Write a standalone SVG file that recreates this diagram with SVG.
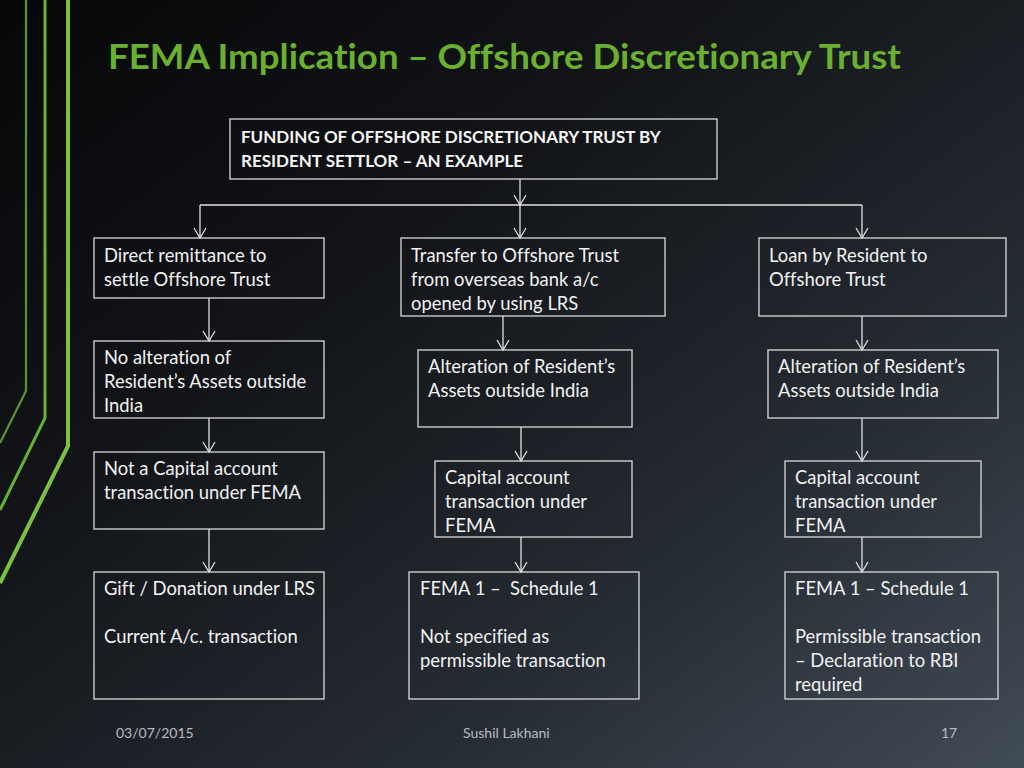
<svg xmlns="http://www.w3.org/2000/svg" width="1024" height="768" viewBox="0 0 1024 768">
<defs>
<linearGradient id="bg" x1="0" y1="0" x2="1" y2="1">
<stop offset="0" stop-color="#060708"/>
<stop offset="0.35" stop-color="#121418"/>
<stop offset="0.7" stop-color="#262c33"/>
<stop offset="1" stop-color="#414b56"/>
</linearGradient>
<marker id="arr" markerWidth="14" markerHeight="14" refX="12" refY="7" orient="auto" markerUnits="userSpaceOnUse" viewBox="0 0 14 14">
<path d="M2,1 L12,7 L2,13" fill="none" stroke="#e0e0e0" stroke-width="1.3"/>
</marker>
</defs>
<style>
text{font-variant-ligatures:none;font-feature-settings:"liga" 0}
.box{fill:none;stroke:#d9d9d9;stroke-width:1.3}
.t{font-family:Lato,"Open Sans","Liberation Sans",sans-serif;font-size:18.4px;fill:#f2f2f2}
.tb{font-family:Lato,"Open Sans","Liberation Sans",sans-serif;font-size:17px;font-weight:bold;fill:#f5f5f5}
.c{fill:none;stroke:#e0e0e0;stroke-width:1.3}
.f{font-family:Lato,"Open Sans","Liberation Sans",sans-serif;font-size:14px;fill:#b8bcc2}
</style>
<rect width="1024" height="768" fill="url(#bg)"/>
<g id="decor" fill="none" stroke-linejoin="miter">
<polyline points="26,0 26,391 0,443" stroke="#5b9430" stroke-width="2.2"/>
<polyline points="45,0 45,418 0,510" stroke="#6aae34" stroke-width="3"/>
<polyline points="68,0 68,446 0,583" stroke="#7cc242" stroke-width="4"/>
</g>
<text x="108" y="69" font-family="Lato,'Open Sans','Liberation Sans',sans-serif" font-size="34" font-weight="bold" fill="#6aaf2f" textLength="793" lengthAdjust="spacingAndGlyphs">FEMA Implication – Offshore Discretionary Trust</text>
<g id="connectors">
<line class="c" x1="520" y1="179" x2="520" y2="205" marker-end="url(#arr)"/>
<line class="c" x1="200" y1="205" x2="862" y2="205"/>
<line class="c" x1="200" y1="205" x2="200" y2="238" marker-end="url(#arr)"/>
<line class="c" x1="520" y1="205" x2="520" y2="238" marker-end="url(#arr)"/>
<line class="c" x1="862" y1="205" x2="862" y2="238" marker-end="url(#arr)"/>
<line class="c" x1="209" y1="298" x2="209" y2="341" marker-end="url(#arr)"/>
<line class="c" x1="503" y1="316" x2="503" y2="350" marker-end="url(#arr)"/>
<line class="c" x1="862" y1="316" x2="862" y2="350" marker-end="url(#arr)"/>
<line class="c" x1="209" y1="418" x2="209" y2="452" marker-end="url(#arr)"/>
<line class="c" x1="521" y1="427" x2="521" y2="461" marker-end="url(#arr)"/>
<line class="c" x1="862" y1="418" x2="862" y2="461" marker-end="url(#arr)"/>
<line class="c" x1="209" y1="529" x2="209" y2="572" marker-end="url(#arr)"/>
<line class="c" x1="521" y1="537" x2="521" y2="572" marker-end="url(#arr)"/>
<line class="c" x1="862" y1="537" x2="862" y2="572" marker-end="url(#arr)"/>
</g>
<g id="top">
<rect class="box" x="230" y="119" width="487" height="60"/>
<text class="tb" x="241" y="143">FUNDING OF OFFSHORE DISCRETIONARY TRUST BY</text>
<text class="tb" x="241" y="167">RESIDENT SETTLOR – AN EXAMPLE</text>
</g>
<g id="L1">
<rect class="box" x="94" y="238" width="230" height="60"/>
<text class="t" x="104" y="262">Direct remittance to</text>
<text class="t" x="104" y="286">settle Offshore Trust</text>
</g>
<g id="M1">
<rect class="box" x="401" y="238" width="264" height="78"/>
<text class="t" x="411" y="262">Transfer to Offshore Trust</text>
<text class="t" x="411" y="286">from overseas bank a/c</text>
<text class="t" x="411" y="310">opened by using LRS</text>
</g>
<g id="R1">
<rect class="box" x="759" y="238" width="247" height="78"/>
<text class="t" x="769" y="262">Loan by Resident to</text>
<text class="t" x="769" y="286">Offshore Trust</text>
</g>
<g id="L2">
<rect class="box" x="94" y="341" width="230" height="77"/>
<text class="t" x="104" y="364">No alteration of</text>
<text class="t" x="104" y="388">Resident’s Assets outside</text>
<text class="t" x="104" y="412">India</text>
</g>
<g id="M2">
<rect class="box" x="418" y="350" width="214" height="77"/>
<text class="t" x="428" y="373">Alteration of Resident’s</text>
<text class="t" x="428" y="397">Assets outside India</text>
</g>
<g id="R2">
<rect class="box" x="768" y="350" width="230" height="68"/>
<text class="t" x="778" y="373">Alteration of Resident’s</text>
<text class="t" x="778" y="397">Assets outside India</text>
</g>
<g id="L3">
<rect class="box" x="94" y="452" width="230" height="77"/>
<text class="t" x="104" y="475">Not a Capital account</text>
<text class="t" x="104" y="499">transaction under FEMA</text>
</g>
<g id="M3">
<rect class="box" x="435" y="461" width="197" height="76"/>
<text class="t" x="445" y="484">Capital account</text>
<text class="t" x="445" y="508">transaction under</text>
<text class="t" x="445" y="532">FEMA</text>
</g>
<g id="R3">
<rect class="box" x="785" y="461" width="196" height="76"/>
<text class="t" x="795" y="484">Capital account</text>
<text class="t" x="795" y="508">transaction under</text>
<text class="t" x="795" y="532">FEMA</text>
</g>
<g id="L4">
<rect class="box" x="94" y="572" width="230" height="127"/>
<text class="t" x="104" y="595">Gift / Donation under LRS</text>
<text class="t" x="104" y="643">Current A/c. transaction</text>
</g>
<g id="M4">
<rect class="box" x="409" y="572" width="230" height="127"/>
<text class="t" x="420" y="595" xml:space="preserve">FEMA 1 –  Schedule 1</text>
<text class="t" x="420" y="643">Not specified as</text>
<text class="t" x="420" y="667">permissible transaction</text>
</g>
<g id="R4">
<rect class="box" x="785" y="572" width="213" height="127"/>
<text class="t" x="795" y="595">FEMA 1 – Schedule 1</text>
<text class="t" x="795" y="643">Permissible transaction</text>
<text class="t" x="795" y="667">– Declaration to RBI</text>
<text class="t" x="795" y="691">required</text>
</g>
<g id="footer">
<text class="f" x="116" y="738">03/07/2015</text>
<text class="f" x="463" y="738">Sushil Lakhani</text>
<text class="f" x="941" y="738">17</text>
</g>
</svg>
